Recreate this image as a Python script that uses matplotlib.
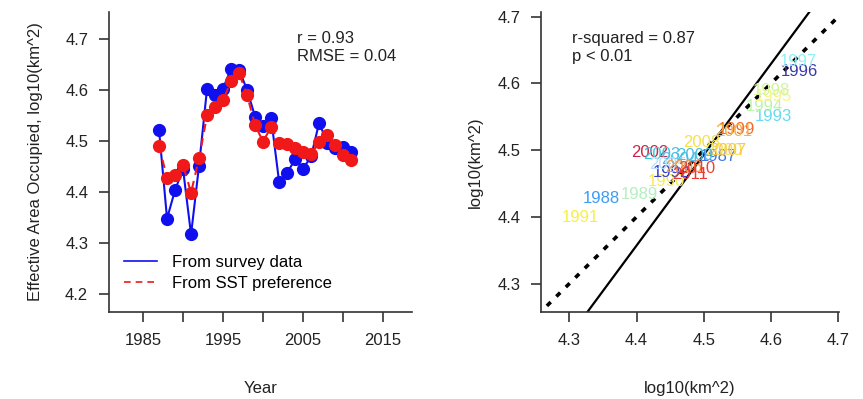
import numpy as np
import matplotlib
matplotlib.use('Agg')
import matplotlib.pyplot as plt

plt.rcParams['font.family'] = ['Liberation Sans', 'DejaVu Sans']
plt.rcParams['font.size'] = 12

# Effective area occupied, log10(km^2), one value per year
years = list(range(1987, 2012))
survey = [4.522, 4.348, 4.404, 4.445, 4.317, 4.452, 4.603, 4.590, 4.603, 4.642,
          4.640, 4.600, 4.548, 4.530, 4.545, 4.420, 4.438, 4.464, 4.446, 4.470,
          4.536, 4.497, 4.486, 4.489, 4.479]
sst_pref = [4.491, 4.427, 4.433, 4.453, 4.399, 4.466, 4.551, 4.566, 4.580, 4.618,
            4.633, 4.590, 4.531, 4.499, 4.528, 4.497, 4.494, 4.486, 4.479, 4.474,
            4.499, 4.512, 4.492, 4.473, 4.463]

# colour of each year label in the scatter panel
year_colors = ['#3a78e8', '#3d9cf5', '#b5efc0', '#f5ea55', '#f8f040', '#3440c8', '#66daf2',
               '#b8f5a8', '#f5f58a', '#3a3aa8', '#8cf2f5', '#d2f59a', '#f56a2a', '#f7e050',
               '#f8b040', '#c8254a', '#3ccadb', '#5ab8f0', '#b8e0ff', '#f89a40', '#f8c850',
               '#f5e04a', '#48c0e0', '#f04030', '#e83a30']

r_text = 'r = 0.93\nRMSE = 0.04'
r2_text = 'r-squared = 0.87\np < 0.01'

txt = '#222222'
fig = plt.figure(figsize=(8.63, 3.99), dpi=100)

# --- left panel: time series ---
ax1 = fig.add_axes([0.1263, 0.218, 0.3511, 0.752])
ax1.plot(years, survey, color='#1010ee', lw=1.5, marker='o', ms=9.5,
         markeredgewidth=0, label='From survey data')
ax1.plot(years, sst_pref, color='#f01818', lw=1.5, ls=(0, (4, 3)), marker='o', ms=9.5,
         markeredgewidth=0, label='From SST preference')
ax1.set_xlim(1980.75, 2018.6)
ax1.set_ylim(4.165, 4.753)
ax1.set_xticks(range(1985, 2016, 5))
ax1.set_xticklabels(['1985', '', '1995', '', '2005', '', '2015'])
ax1.set_yticks([4.2, 4.3, 4.4, 4.5, 4.6, 4.7])
ax1.set_xlabel('Year', labelpad=24)
ax1.set_ylabel('Effective Area Occupied, log10(km^2)', labelpad=16)
ax1.text(0.62, 0.935, r_text, transform=ax1.transAxes, va='top', ha='left',
         linespacing=1.25, color=txt)
leg = ax1.legend(loc='lower left', bbox_to_anchor=(0.0, 0.02), frameon=False,
                 handlelength=2.0, handletextpad=0.9, labelspacing=0.35)
for h in leg.get_lines():
    h.set_marker('')
    h.set_linewidth(1.2)

# --- right panel: survey vs SST preference ---
ax2 = fig.add_axes([0.6269, 0.2188, 0.3453, 0.7512])
ax2.set_xlim(4.258, 4.701)
ax2.set_ylim(4.258, 4.707)
for yr, xv, yv, c in zip(years, survey, sst_pref, year_colors):
    ax2.text(xv, yv, str(yr), color=c, ha='center', va='center', fontsize=12)
lims = np.array([4.0, 5.0])
ax2.plot(lims, lims, color='black', lw=2.6, ls=(0, (1.5, 2.2)))
b, a = np.polyfit(sst_pref, survey, 1)
ax2.plot(lims, a + b * lims, color='black', lw=1.6)
ax2.set_xticks([4.3, 4.4, 4.5, 4.6, 4.7])
ax2.set_yticks([4.3, 4.4, 4.5, 4.6, 4.7])
ax2.set_xlabel('log10(km^2)', labelpad=24)
ax2.set_ylabel('log10(km^2)', labelpad=10)
ax2.text(0.105, 0.935, r2_text, transform=ax2.transAxes, va='top', ha='left',
         linespacing=1.25, color=txt)

for ax in (ax1, ax2):
    for s in ('top', 'right'):
        ax.spines[s].set_visible(False)
    for s in ('left', 'bottom'):
        ax.spines[s].set_linewidth(1.2)
        ax.spines[s].set_color('#333333')
    ax.tick_params(direction='out', length=7, width=1.2, color='#333333',
                   labelcolor=txt, labelsize=12, pad=8)
    ax.xaxis.label.set_color(txt)
    ax.yaxis.label.set_color(txt)

fig.savefig('out.png', dpi=100)
